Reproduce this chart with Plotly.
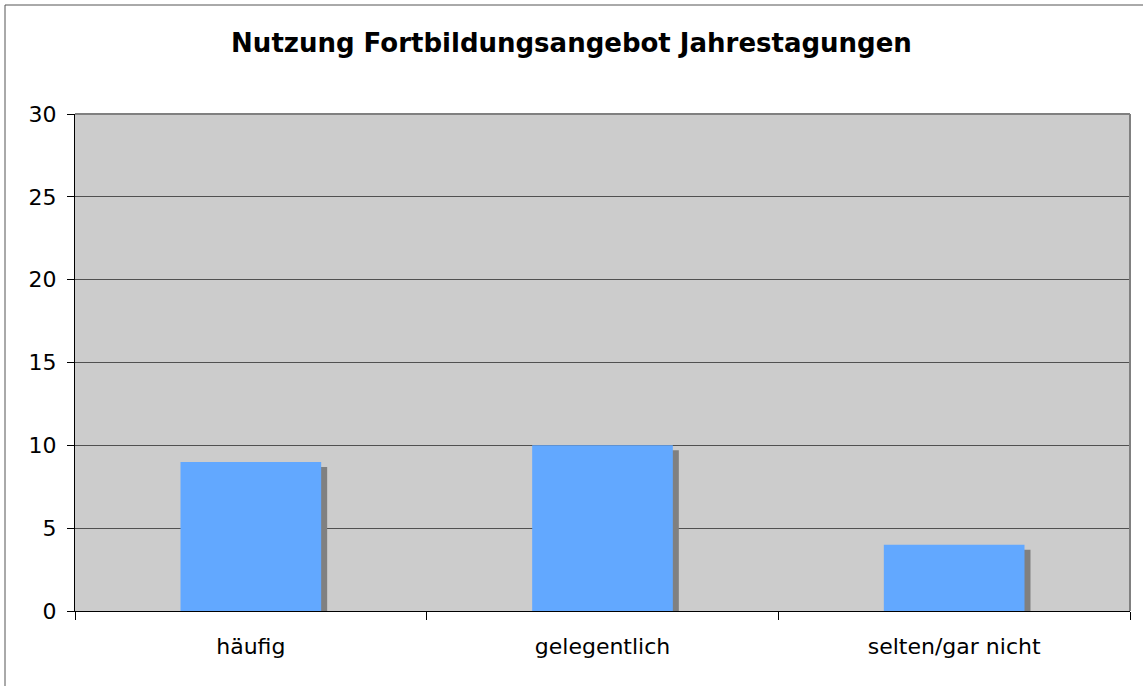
import plotly.graph_objects as go

categories = ["häufig", "gelegentlich", "selten/gar nicht"]
values = [9, 10, 4]
y_ticks = [0, 5, 10, 15, 20, 25, 30]
title_text = "Nutzung Fortbildungsangebot Jahrestagungen"

W, H = 1143, 686
L, R, T, B = 75, 13, 114, 75
plot_w = W - L - R
plot_h = H - T - B
y_max = 30
bar_w = 0.4
shadow_dx = 6 / (plot_w / 3)          # 6 px to the right, in category units
shadow_dy = 5 * y_max / plot_h        # 5 px lower, in value units

fig = go.Figure()
fig.add_trace(go.Bar(
    x=categories, y=[v - shadow_dy for v in values],
    width=bar_w, offset=-bar_w / 2 + shadow_dx,
    marker=dict(color="#808080", line=dict(width=0)),
    hoverinfo="skip", showlegend=False,
))
fig.add_trace(go.Bar(
    x=categories, y=values,
    width=bar_w, offset=-bar_w / 2,
    marker=dict(color="#62A8FF", line=dict(width=0)),
    showlegend=False,
))

font_family = "DejaVu Sans, Verdana, sans-serif"
fig.update_layout(
    width=W, height=H,
    margin=dict(l=L, r=R, t=T, b=B, pad=0),
    paper_bgcolor="white",
    plot_bgcolor="#CCCCCC",
    barmode="overlay",
    font=dict(family=font_family, size=22, color="black"),
    title=dict(text="<b>" + title_text + "</b>", x=0.5, xanchor="center",
               y=1 - 43 / H, yanchor="middle",
               font=dict(family=font_family, size=26, color="black")),
    xaxis=dict(
        type="category", tickson="boundaries", ticks="outside", ticklen=8,
        tickcolor="black", showline=True, linecolor="black", linewidth=1,
        showgrid=False, tickfont=dict(size=22), range=[-0.5, 2.5],
        ticklabelstandoff=16,
    ),
    yaxis=dict(
        range=[0, y_max], tickvals=y_ticks, ticks="outside", ticklen=7,
        tickcolor="black", showline=True, linecolor="black", linewidth=1,
        showgrid=True, gridcolor="#505050", gridwidth=1, zeroline=False,
        tickfont=dict(size=22), ticklabelstandoff=6,
    ),
    shapes=[
        # gray top and right border of plot area
        dict(type="line", xref="paper", yref="paper", x0=0, x1=1, y0=1, y1=1,
             line=dict(color="#808080", width=2), layer="above"),
        dict(type="line", xref="paper", yref="paper", x0=1, x1=1, y0=0, y1=1,
             line=dict(color="#808080", width=2), layer="above"),
        # outer chart border
        dict(type="rect", xref="paper", yref="paper",
             x0=(5 - L) / plot_w, x1=(W + 20 - L) / plot_w,
             y0=-(B + 20) / plot_h, y1=(plot_h + T - 5) / plot_h,
             line=dict(color="#555555", width=1), layer="below"),
    ],
)

fig.write_html("out.html", config={"displayModeBar": False},
               post_script="document.body.style.margin='0';document.body.style.overflow='hidden';")
